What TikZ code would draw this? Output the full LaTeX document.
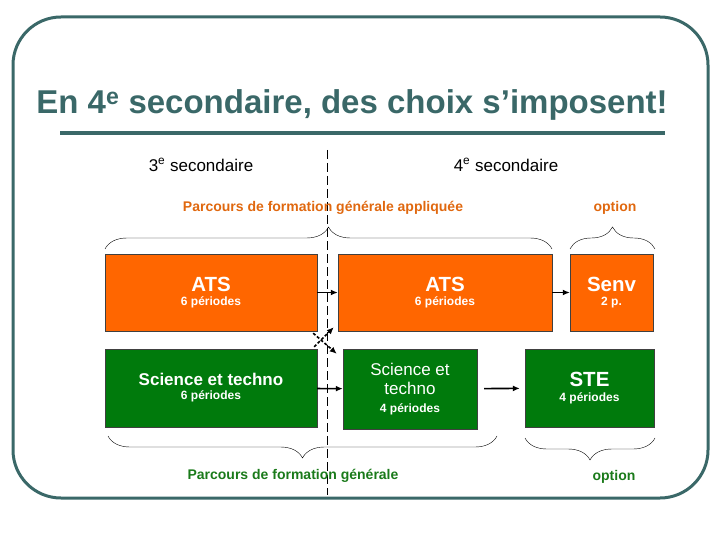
\documentclass[tikz,border=0pt]{standalone}
\usepackage{fontspec}
\setmainfont{Liberation Sans}
\usetikzlibrary{decorations.pathreplacing,arrows.meta}

\definecolor{frame}{HTML}{3A6868}
\definecolor{orangebox}{HTML}{FF6600}
\definecolor{greenbox}{HTML}{007A0C}
\definecolor{orangetxt}{HTML}{E0680F}
\definecolor{greentxt}{HTML}{1A7A1A}

\tikzset{
  orbox/.style={draw=black!75,fill=orangebox,text=white,align=center,inner sep=0pt,font=\bfseries},
  grbox/.style={draw=black!75,fill=greenbox,text=white,align=center,inner sep=0pt,font=\bfseries},
  flow/.style={-{Latex[length=7pt,width=6pt]},line width=1.6pt},
  cross/.style={-{Latex[length=7pt,width=6pt]},line width=1.6pt,dash pattern=on 3pt off 2pt},
  accolade/.style={decorate,decoration={brace,amplitude=22pt},thin}
}
\newcommand{\grand}{\fontsize{20.5}{22}\selectfont}
\newcommand{\moyen}{\fontsize{17}{19}\selectfont}
\newcommand{\petit}{\fontsize{12}{14}\selectfont}

\begin{document}
\begin{tikzpicture}[x=1pt,y=-1pt]
        \useasboundingbox (0,0) rectangle (720,540);
        % cadre et titre
        \draw[frame,line width=3pt,rounded corners=48pt] (13,17) rectangle (708,498);
        \node[frame,font=\bfseries\fontsize{33}{35}\selectfont,anchor=base] (titre) at (352,114) {En 4\textsuperscript{e} secondaire, des choix s’imposent!};
        \draw[frame,line width=4pt] (60,133) -- (665,133);
        \node[font=\fontsize{17}{19}\selectfont] (sec3) at (201,165) {3\textsuperscript{e} secondaire};
        \node[font=\fontsize{17}{19}\selectfont] (sec4) at (506,165) {4\textsuperscript{e} secondaire};
        \draw[dash pattern=on 9pt off 4pt] (327,150) -- (327,495);
        % parcours appliqué
        \node[orangetxt,font=\bfseries\fontsize{14}{16}\selectfont] (pfga) at (323,208) {Parcours de formation générale appliquée};
        \node[orangetxt,font=\bfseries\fontsize{14}{16}\selectfont] (opt1) at (615,208) {option};
        \draw[accolade] (105,249) -- (552,249);
        \draw[accolade] (570,249) -- (655,249);
        \node[orbox,minimum width=212pt,minimum height=77pt] (ats3) at (211,292.5) {{\grand ATS}\\[2pt]{\petit 6 périodes}};
        \node[orbox,minimum width=214pt,minimum height=77pt] (ats4) at (445,292.5) {{\grand ATS}\\[2pt]{\petit 6 périodes}};
        \node[orbox,minimum width=83pt,minimum height=77pt] (senv) at (611.5,292.5) {{\grand Senv}\\[2pt]{\petit 2 p.}};
        % parcours général
        \node[grbox,minimum width=212pt,minimum height=78pt] (st3) at (211,388) {{\moyen Science et techno}\\[2pt]{\petit 6 périodes}};
        \node[grbox,font=\mdseries\moyen,minimum width=134pt,minimum height=80pt] (st4) at (410,389) {Science et\\techno\\[-1pt]{\petit\bfseries 4 périodes}};
        \node[grbox,minimum width=129pt,minimum height=78pt] (ste) at (589.5,388) {{\grand STE}\\[3pt]{\petit 4 périodes}};
        \draw[accolade] (497,436) -- (108,436);
        \draw[accolade] (655,438) -- (525,438);
        \node[greentxt,font=\bfseries\fontsize{14}{16}\selectfont] (pfg) at (293,476) {Parcours de formation générale};
        \node[greentxt,font=\bfseries\fontsize{14}{16}\selectfont] (opt2) at (614,477) {option};
        % fleches
        \draw[flow] (ats3) -- (ats4);
        \draw[flow] (ats4) -- (senv);
        \draw[flow] (st3) -- (st4);
        \draw[flow,shorten <=7pt,shorten >=5pt] (st4) -- (ste);
        \draw[cross] (ats3.south east) ++(-4,2) -- ([shift={(-6,5)}]st4.north west);
        \draw[cross] (st3.north east) ++(-3,-2) -- ([shift={(-4,-4)}]ats4.south west);
\end{tikzpicture}
\end{document}
